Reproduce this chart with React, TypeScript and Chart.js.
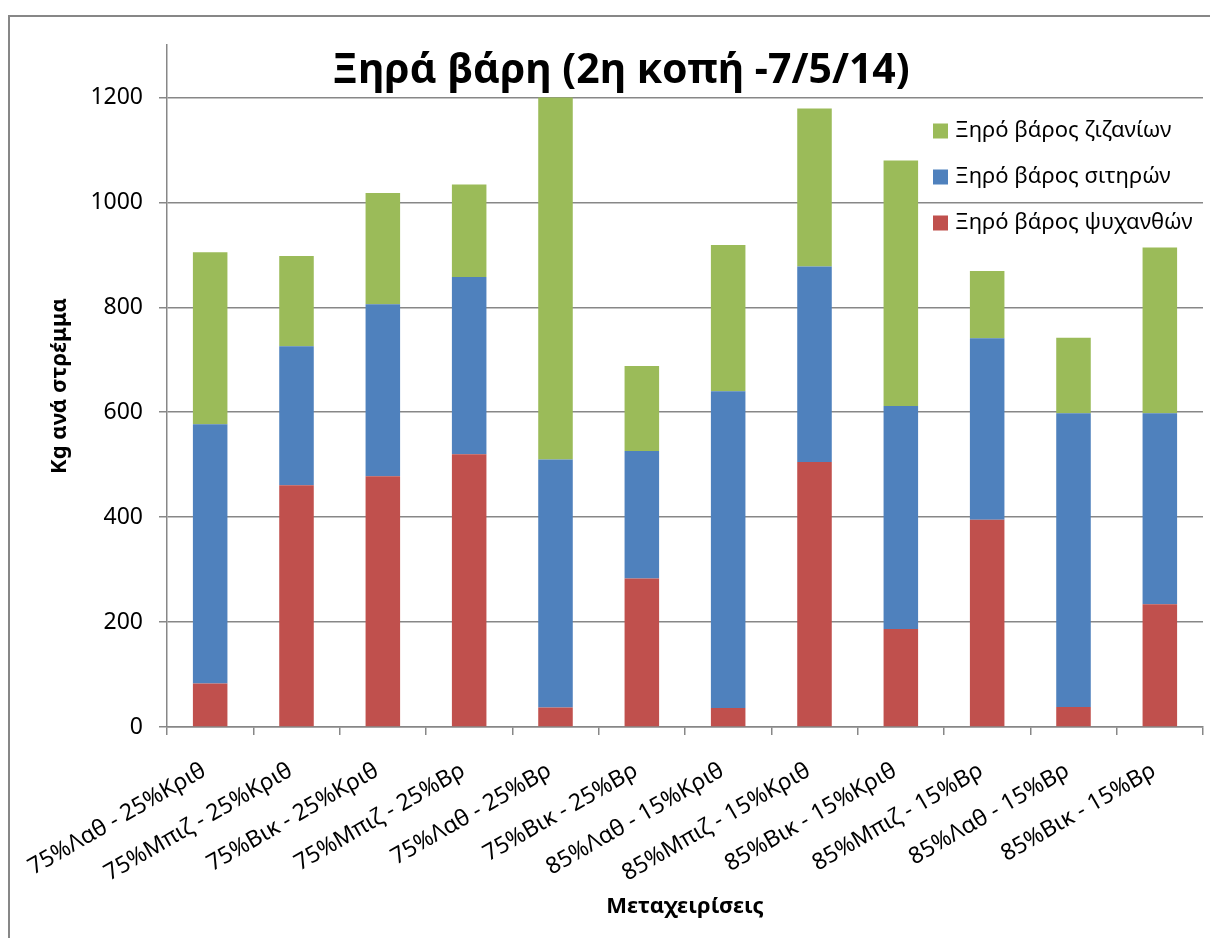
import React, { useEffect, useRef } from 'react';
import { Chart, registerables } from 'chart.js';

Chart.register(...registerables);

const TITLE = 'Ξηρά βάρη (2η κοπή -7/5/14)';
const X_TITLE = 'Μεταχειρίσεις';
const Y_TITLE = 'Kg ανά στρέμμα';

const categories = [
  '75%Λαθ - 25%Κριθ',
  '75%Μπιζ - 25%Κριθ',
  '75%Βικ - 25%Κριθ',
  '75%Μπιζ - 25%Βρ',
  '75%Λαθ - 25%Βρ',
  '75%Βικ - 25%Βρ',
  '85%Λαθ - 15%Κριθ',
  '85%Μπιζ - 15%Κριθ',
  '85%Βικ - 15%Κριθ',
  '85%Μπιζ - 15%Βρ',
  '85%Λαθ - 15%Βρ',
  '85%Βικ - 15%Βρ',
];

const seriesNames = ['Ξηρό βάρος ψυχανθών', 'Ξηρό βάρος σιτηρών', 'Ξηρό βάρος ζιζανίων'];
const legumes = [83, 461, 478, 520, 37, 283, 36, 505, 187, 395, 38, 234];
const cereals = [494, 265, 328, 338, 473, 243, 604, 373, 425, 346, 560, 364];
const weeds = [328, 172, 212, 176, 690, 162, 279, 301, 468, 128, 144, 316];
const seriesColors = ['#C0504D', '#4F81BD', '#9BBB59'];

const yTicks = [0, 200, 400, 600, 800, 1000, 1200];
const Y_MAX = 1300;

const FONT = "'Noto Sans', 'DejaVu Sans', sans-serif";
const GRID = '#878787';

const overlayPlugin = {
  id: 'overlay',
  afterDraw(chart: any) {
    const ctx = chart.ctx;
    ctx.save();
    ctx.fillStyle = '#000';
    ctx.font = `bold 41px ${FONT}`;
    ctx.textAlign = 'center';
    ctx.textBaseline = 'alphabetic';
    ctx.fillText(TITLE, 613, 75);

    ctx.font = `22px ${FONT}`;
    ctx.textAlign = 'left';
    ctx.textBaseline = 'middle';
    const ds = chart.data.datasets.slice().reverse();
    ds.forEach((d: any, i: number) => {
      const cy = 123 + i * 46;
      ctx.fillStyle = d.backgroundColor;
      ctx.fillRect(925, cy - 7.5, 15, 15);
      ctx.fillStyle = '#000';
      ctx.fillText(d.label, 947, cy);
    });
    ctx.restore();
  },
};

export default function App() {
  const ref = useRef<HTMLCanvasElement | null>(null);

  useEffect(() => {
    if (!ref.current) return;
    const values = [legumes, cereals, weeds];
    const chart = new Chart(ref.current, {
      type: 'bar',
      data: {
        labels: categories,
        datasets: seriesNames.map((name, i) => ({
          label: name,
          data: values[i],
          backgroundColor: seriesColors[i],
          borderWidth: 0,
          barPercentage: 0.4,
          categoryPercentage: 1.0,
        })),
      },
      options: {
        animation: false,
        responsive: false,
        devicePixelRatio: 1,
        layout: { padding: { top: 37, right: 7, left: 0, bottom: 0 } },
        font: { family: FONT },
        plugins: {
          legend: { display: false },
          title: { display: false },
          tooltip: { enabled: false },
        },
        scales: {
          x: {
            stacked: true,
            grid: {
              display: true,
              drawOnChartArea: false,
              drawTicks: true,
              tickLength: 8,
              color: GRID,
              lineWidth: 1.5,
              offset: true,
            },
            border: { display: true, color: GRID, width: 1.5 },
            ticks: {
              minRotation: 30,
              maxRotation: 30,
              autoSkip: false,
              padding: 22,
              labelOffset: -6,
              color: '#000',
              font: { size: 23, family: FONT },
            },
            title: {
              display: true,
              text: X_TITLE,
              color: '#000',
              font: { size: 22, weight: 'bold', family: FONT },
              padding: { top: 0, bottom: 18 },
            },
            afterFit: (s: any) => {
              s.height = 211;
              s.paddingLeft = 0;
              s.paddingRight = 0;
            },
          },
          y: {
            stacked: true,
            min: 0,
            max: Y_MAX,
            afterBuildTicks: (s: any) => {
              s.ticks = yTicks.map((v) => ({ value: v }));
            },
            grid: { color: GRID, lineWidth: 1.5, tickLength: 8 },
            border: { color: GRID, width: 1.5 },
            ticks: {
              padding: 16,
              color: '#000',
              font: { size: 23, family: FONT },
              callback: (v: any) => String(v),
            },
            title: {
              display: true,
              text: Y_TITLE,
              color: '#000',
              font: { size: 22, weight: 'bold', family: FONT },
              padding: { top: 39, bottom: 0 },
            },
            afterFit: (s: any) => {
              s.width = 159;
              s.paddingTop = 0;
              s.paddingBottom = 0;
            },
          },
        },
      } as any,
      plugins: [overlayPlugin],
    });
    return () => chart.destroy();
  }, []);

  return (
    <div style={{ position: 'relative', width: 1202, height: 930, overflow: 'hidden', background: '#fff' }}>
      <div
        style={{
          position: 'absolute',
          left: 0,
          top: 7,
          right: -10,
          bottom: -10,
          borderLeft: `2px solid ${GRID}`,
          borderTop: `2px solid ${GRID}`,
        }}
      />
      <canvas
        ref={ref}
        width={1202}
        height={930}
        style={{ position: 'absolute', left: 0, top: 0, width: 1202, height: 930 }}
      />
    </div>
  );
}
